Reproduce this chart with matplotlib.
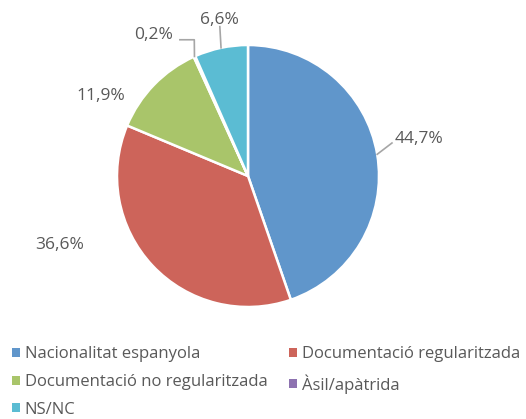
import numpy as np
import matplotlib.pyplot as plt
from matplotlib.patches import Patch

plt.rcParams['font.family'] = ['Open Sans', 'DejaVu Sans']

categories = ["Nacionalitat espanyola", "Documentació regularitzada",
              "Documentació no regularitzada", "Àsil/apàtrida", "NS/NC"]
values = [44.7, 36.6, 11.9, 0.2, 6.6]
labels = ["44,7%", "36,6%", "11,9%", "0,2%", "6,6%"]
colors = ["#6096cb", "#cd645a", "#a9c56a", "#8d72b0", "#5bbcd3"]

text_col = "#595959"
line_col = "#a6a6a6"

W, H = 526, 419
fig = plt.figure(figsize=(W / 100, H / 100), dpi=100)
cx, cy, r = 248, 176, 131
ax = fig.add_axes([(cx - r) / W, (H - cy - r) / H, 2 * r / W, 2 * r / H])

wedges, _ = ax.pie(values, colors=colors, startangle=90, counterclock=False,
                   wedgeprops=dict(edgecolor="white", linewidth=1.8))
ax.set_xlim(-1, 1)
ax.set_ylim(-1, 1)
ax.set_aspect("equal")
ax.axis("off")

# label positions (x, y, ha) and leader elbows, in pie radius units
label_pos = [(1.12, 0.28, "left"), (-1.435, -0.53, "center"),
             (-1.122, 0.61, "center"), (-0.72, 1.075, "center"),
             (-0.221, 1.19, "center")]
leaders = {0: [(1.0, None), (1.099, 0.252)],
           3: [(1.0, None), (-0.41, 1.04), (-0.52, 1.04)],
           4: [(1.0, None), (-0.215, 1.14)]}

for i, w in enumerate(wedges):
    mid = np.deg2rad((w.theta1 + w.theta2) / 2)
    x, y, ha = label_pos[i]
    ax.text(x, y, labels[i], ha=ha, va="center", fontsize=12.5, color=text_col)
    if i in leaders:
        pts = [(np.cos(mid), np.sin(mid))] + leaders[i][1:]
        xs = [p[0] for p in pts]
        ys = [p[1] for p in pts]
        ax.plot(xs, ys, color=line_col, lw=1.2, clip_on=False)

handles = [Patch(facecolor=c, edgecolor="none") for c in colors]
order = [0, 2, 4, 1, 3]
fig.legend([handles[i] for i in order], [categories[i] for i in order],
           loc="upper left", bbox_to_anchor=(-0.002, 0.205), ncol=2, frameon=False,
           handlelength=0.45, handleheight=0.45, handletextpad=0.3,
           columnspacing=1.3, labelspacing=0.7, fontsize=12,
           labelcolor=text_col, borderpad=0.3)

fig.savefig("out.png", dpi=100, facecolor="white")
